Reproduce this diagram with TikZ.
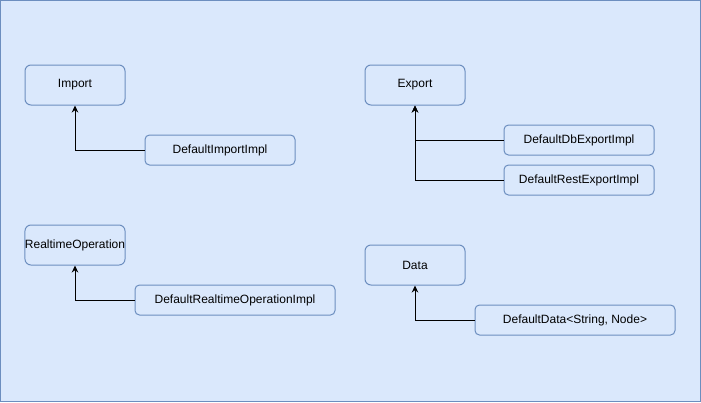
\documentclass[tikz,border=0pt]{standalone}
\usepackage{fontspec}
\setmainfont{Liberation Sans}
\usetikzlibrary{arrows.meta}
\definecolor{panefill}{HTML}{DAE8FC}
\definecolor{paneline}{HTML}{6C8EBF}
\begin{document}
\begin{tikzpicture}[x=1pt, y=-1pt, font=\fontsize{12}{14}\selectfont, >={Stealth[length=7pt, width=6.5pt]},
          iface/.style={draw=paneline, fill=panefill, line width=1pt, rounded corners=6pt,
                        minimum width=100pt, minimum height=40pt, inner sep=0pt},
          impl/.style={iface, rounded corners=4.5pt, minimum width=150pt, minimum height=30pt},
          realizes/.style={->, line width=1pt, black}]
        \useasboundingbox (0,0) rectangle (701,402);
        \draw[paneline, fill=panefill, line width=1pt] (0.5,0.5) rectangle (700.5,401.5);
        % interfaces
        \node[iface] (imp) at (75,85) {Import};
        \node[iface] (exp) at (415,85) {Export};
        \node[iface] (rto) at (75,245) {RealtimeOperation};
        \node[iface] (dat) at (415,265) {Data};
        % implementations
        \node[impl] (impimpl) at (220,150) {DefaultImportImpl};
        \node[impl] (dbexp) at (579,140) {DefaultDbExportImpl};
        \node[impl] (restexp) at (579,180) {DefaultRestExportImpl};
        \node[impl, minimum width=200pt] (rtoimpl) at (235,300) {DefaultRealtimeOperationImpl};
        \node[impl, minimum width=200pt] (datimpl) at (575,320) {DefaultData<String, Node>};
        % realization lines
        \draw[realizes] (impimpl.west) -| (imp.south);
        \draw[realizes] (dbexp.west) -| (exp.south);
        \draw[realizes] (restexp.west) -| (exp.south);
        \draw[realizes] (rtoimpl.west) -| (rto.south);
        \draw[realizes] (datimpl.west) -| (dat.south);
\end{tikzpicture}
\end{document}
